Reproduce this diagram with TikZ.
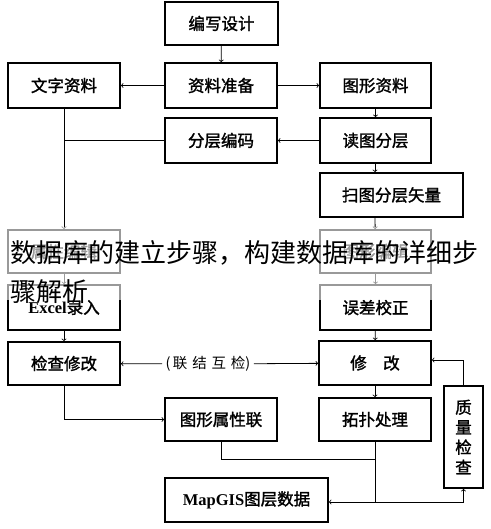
\documentclass[tikz,border=0pt]{standalone}
\usepackage{fontspec}
\setmainfont{Liberation Serif}
\newfontfamily\cjk{Noto Sans CJK SC}
\newfontfamily\cjkbold{Noto Sans CJK SC}[FakeBold=1.6]
\begin{document}
\begin{tikzpicture}[x=1pt,y=-1pt,
  box/.style={draw, line width=1.6pt, minimum width=112pt, minimum height=44pt, inner sep=0pt, font=\cjkbold\fontsize{16.5}{18}\selectfont},
  line/.style={draw, line width=0.8pt}]
\useasboundingbox (0,0) rectangle (490,529);
\node[box, minimum width=113pt, minimum height=43pt] (1) at (221.5,23.5) {编写设计};
\node[box, minimum height=45pt] (2) at (221,85.5) {资料准备};
\node[box, minimum height=45pt] (3) at (64,85.5) {文字资料};
\node[box, minimum width=111pt, minimum height=45pt] (4) at (375.5,85.5) {图形资料};
\node[box, minimum height=45pt] (5) at (221,140.5) {分层编码};
\node[box, minimum width=111pt, minimum height=45pt] (6) at (375.5,140.5) {读图分层};
\node[box, minimum width=143pt] (7) at (391.5,195) {扫图分层矢量};
\node[box, minimum height=43pt] (8) at (64,251.5) {属性编辑};
\node[box, minimum height=45pt] (9) at (64,307.5) {{\rmfamily\bfseries Excel}录入};
\node[box, minimum width=111pt, minimum height=43pt] (10) at (375.5,251.5) {图形编辑};
\node[box, minimum width=111pt, minimum height=45pt] (11) at (375.5,307.5) {误差校正};
\node[box, minimum height=43pt] (12) at (64,363.5) {检查修改};
\node[box] (13) at (375,363) {修\quad 改};
\node[box, minimum height=43pt] (14) at (221,419.5) {图形属性联};
\node[box, minimum height=43pt] (15) at (375,419.5) {拓扑处理};
\node[box, minimum width=39pt, minimum height=102pt, align=center, font=\cjkbold\fontsize{16.5}{20}\selectfont] (16) at (463.5,437) {质\\量\\检\\查};
\node[box, minimum width=163pt] (17) at (246.5,500) {{\rmfamily\bfseries MapGIS}图层数据};
\node[font=\cjk\fontsize{14.5}{16}\selectfont] (18) at (208,364) {(\,联\,\,结\,\,互\,\,检)};
\coordinate (j1) at (375,459);
\coordinate (j2) at (375,502);
\path[line,->] (1) -- (2);
\path[line,->] (2) -- (3);
\path[line,->] (2) -- (4);
\path[line,->] (4) -- (6);
\path[line,->] (6) -- (5);
\path[line] (5.west) -- (5.west -| 3.south);
\path[line,->] (3) -- (8);
\path[line,->] (8) -- (9);
\path[line,->] (9) -- (12);
\path[line,->] (6.south -| 375,0) -- (7.north -| 375,0);
\path[line,->] (7.south -| 375,0) -- (10);
\path[line,->] (10) -- (11);
\path[line,->] (11) -- (13);
\path[line,->] (18) -- (12);
\path[line,->] (18) -- (13);
\path[line,->] (12) |- (14);
\path[line,->] (13) -- (15);
\path[line,->] (16.north) |- (13.east |- 0,360);
\path[line] (14) |- (j1);
\path[line] (15) -- (j2);
\path[line,->] (j2) -- (j2 -| 17.east);
\path[line,->] (j2) -| (16.south);
% watermark band
\fill[white, opacity=0.6] (0,227) rectangle (490,300);
\node[anchor=west, inner sep=0pt, font=\cjk\fontsize{26}{30}\selectfont] (19) at (10,253) {数据库的建立步骤，构建数据库的详细步};
\node[anchor=west, inner sep=0pt, font=\cjk\fontsize{26}{30}\selectfont] (20) at (10,292) {骤解析};
\end{tikzpicture}
\end{document}
